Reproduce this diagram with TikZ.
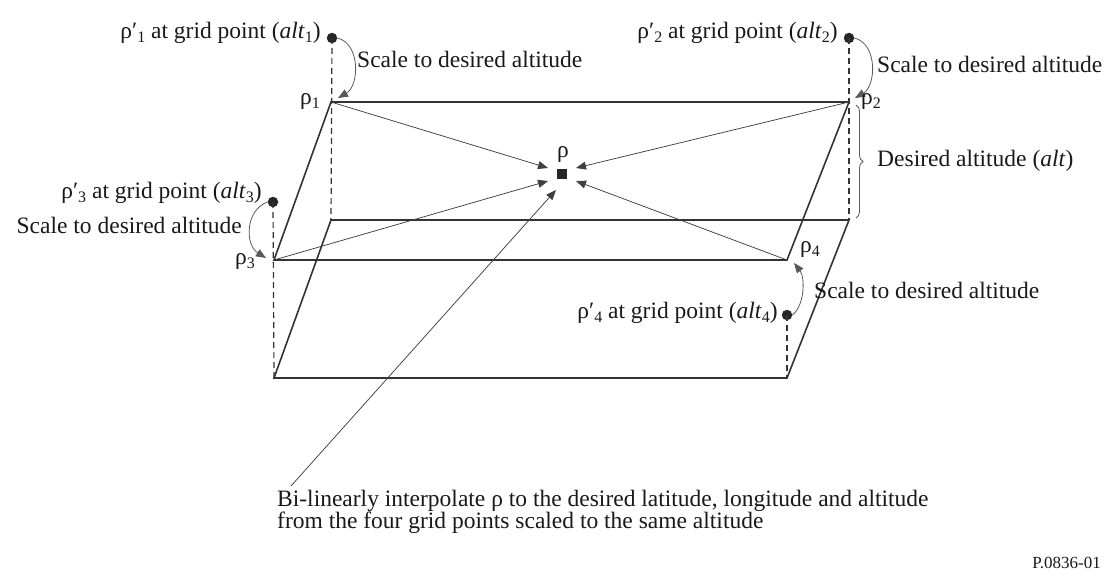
\documentclass[tikz,border=0pt]{standalone}
\usepackage{fontspec}
\setmainfont{Liberation Serif}
\usetikzlibrary{arrows.meta,decorations.pathreplacing}
\newcommand{\lsub}[1]{\raisebox{-0.45ex}{\fontsize{16}{16}\selectfont #1}}
\begin{document}
\begin{tikzpicture}[x=1pt,y=-1pt,
  txt/.style={inner sep=0pt, font=\fontsize{23.5}{21}\selectfont, text=black!90},
  small/.style={inner sep=0pt, font=\fontsize{17}{17}\selectfont, text=black!90},
  box/.style={line width=1.6pt, draw=black!80},
  thinl/.style={line width=0.75pt, draw=black!75},
  dsh/.style={line width=1.2pt, draw=black!80, dash pattern=on 6pt off 4pt},
  tip/.style={-{Triangle[length=10pt,width=8pt]}},
  dotnode/.style={circle, fill=black!85, inner sep=0pt, minimum size=10.5pt},
  curv/.style={line width=0.8pt, draw=black!65}
]
\useasboundingbox (0,0) rectangle (1110,578);
% box corners
\coordinate (A1) at (331,102);
\coordinate (A2) at (849,102);
\coordinate (A3) at (274,260);
\coordinate (A4) at (787,260);
\coordinate (B1) at (331,220);
\coordinate (B2) at (849,220);
\coordinate (B3) at (274,378);
\coordinate (B4) at (787,378);
% dots
\node[dotnode] (D1) at (332,38) {};
\node[dotnode] (D2) at (849,38) {};
\node[dotnode] (D3) at (273,202) {};
\node[dotnode] (D4) at (787,315) {};
% dashed verticals
\draw[dsh] (D1.center) -- (B1);
\draw[dsh] (D2.center) -- (B2);
\draw[dsh] (D3.center) -- (B3);
\draw[dsh] (D4.center) -- (B4);
% planes
\draw[box] (A1) -- (A2) -- (A4) -- (A3) -- cycle;
\draw[box] (B1) -- (B2) -- (B4) -- (B3) -- cycle;
% centre point
\node[fill=black!85, minimum size=10pt, inner sep=0pt] (R) at (562,174) {};
\node[txt, anchor=base] (Rl) at (563,157) {ρ};
\coordinate (T1) at (548,168);
\coordinate (T2) at (576,168);
\coordinate (T3) at (548,181);
\coordinate (T4) at (576,181);
\coordinate (T5) at (556,190);
\draw[thinl, tip] (A1) -- (T1);
\draw[thinl, tip] (A2) -- (T2);
\draw[thinl, tip] (A3) -- (T3);
\draw[thinl, tip] (A4) -- (T4);
% bottom text and long arrow
\node[txt, anchor=base west] (bt1) at (277,506) {Bi-linearly interpolate ρ to the desired latitude, longitude and altitude};
\node[txt, anchor=base west] (bt2) at (277,528) {from the four grid points scaled to the same altitude};
\coordinate (L0) at (291,486);
\draw[thinl, tip] (L0) -- (T5);
% curved arrows
\coordinate (E1) at (338,98);
\coordinate (E2) at (855,98);
\coordinate (E3) at (266,258);
\coordinate (E4) at (794,263);
\draw[curv, tip] (D1.east) .. controls (361,44) and (359,86) .. (E1);
\draw[curv, tip] (D2.east) .. controls (878,44) and (876,86) .. (E2);
\draw[curv, tip] (D3.west) .. controls (245,210) and (245,245) .. (E3);
\draw[curv, tip] (D4.east) .. controls (805,305) and (805,277) .. (E4);
% labels
\node[txt, anchor=base east] (P1) at (321,38) {ρ′\lsub{1} at grid point (\textit{alt}\lsub{1})};
\node[txt, anchor=base east] (P2) at (838,38) {ρ′\lsub{2} at grid point (\textit{alt}\lsub{2})};
\node[txt, anchor=base east] (P3) at (262,198) {ρ′\lsub{3} at grid point (\textit{alt}\lsub{3})};
\node[txt, anchor=base east] (P4) at (778,318) {ρ′\lsub{4} at grid point (\textit{alt}\lsub{4})};
\node[txt, anchor=base west] (S1) at (357,67) {Scale to desired altitude};
\node[txt, anchor=base west] (S2) at (877,72) {Scale to desired altitude};
\node[txt, anchor=base east] (S3) at (242,233) {Scale to desired altitude};
\node[txt, anchor=base west] (S4) at (814,298) {Scale to desired altitude};
\node[txt, anchor=base west] (r1) at (300,104) {ρ\lsub{1}};
\node[txt, anchor=base west] (r2) at (861,104) {ρ\lsub{2}};
\node[txt, anchor=base west] (r3) at (235,264) {ρ\lsub{3}};
\node[txt, anchor=base west] (r4) at (800,252) {ρ\lsub{4}};
% brace
\draw[curv, decorate, decoration={brace, amplitude=7pt}] (856,105) -- (856,218);
\node[txt, anchor=west] (alt) at (877,161) {Desired altitude (\textit{alt})};
% figure id
\node[small, anchor=base east] (id) at (1101,568) {P.0836-01};
\end{tikzpicture}
\end{document}
